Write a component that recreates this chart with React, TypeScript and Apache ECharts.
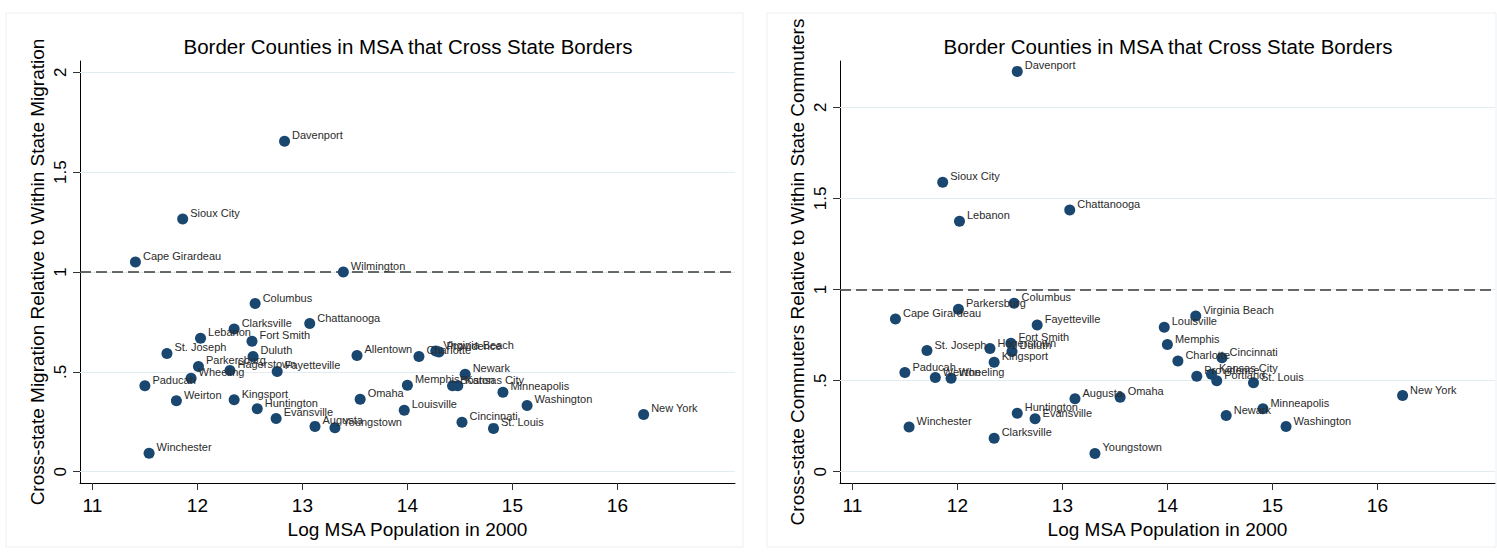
import React, { useEffect, useRef } from "react";
import * as echarts from "echarts";

const FONT = "'Liberation Sans', Arial, sans-serif";

const TITLE = "Border Counties in MSA that Cross State Borders";
const X_TITLE = "Log MSA Population in 2000";
const Y_TITLE_LEFT = "Cross-state Migration Relative to Within State Migration";
const Y_TITLE_RIGHT = "Cross-state Commuters Relative to Within State Commuters";

const xTicks = [11, 12, 13, 14, 15, 16];
const yTicks = [0, 0.5, 1, 1.5, 2];
const refLine = 1;

// Left panel: migration
const namesMig = [
  "Davenport", "Sioux City", "Cape Girardeau", "Wilmington", "Columbus", "Chattanooga",
  "Clarksville", "Lebanon", "Fort Smith", "St. Joseph", "Duluth", "Allentown", "Charlotte",
  "Virginia Beach", "Providence", "Parkersburg", "Hagerstown", "Fayetteville", "Wheeling",
  "Paducah", "Weirton", "Kingsport", "Huntington", "Evansville", "Augusta", "Youngstown",
  "Omaha", "Louisville", "Memphis", "Newark", "Boston", "Kansas City", "Minneapolis",
  "Washington", "New York", "Cincinnati", "St. Louis", "Winchester",
];
const popMig = [
  12.83, 11.86, 11.41, 13.39, 12.55, 13.07,
  12.35, 12.03, 12.52, 11.71, 12.53, 13.52, 14.11,
  14.27, 14.30, 12.01, 12.31, 12.76, 11.94,
  11.50, 11.80, 12.35, 12.57, 12.75, 13.12, 13.31,
  13.55, 13.97, 14.00, 14.55, 14.43, 14.48, 14.91,
  15.14, 16.25, 14.52, 14.82, 11.54,
];
const valMig = [
  1.655, 1.265, 1.05, 1.0, 0.842, 0.742,
  0.715, 0.668, 0.653, 0.592, 0.577, 0.582, 0.577,
  0.605, 0.60, 0.527, 0.507, 0.502, 0.468,
  0.43, 0.355, 0.36, 0.315, 0.267, 0.227, 0.22,
  0.363, 0.308, 0.433, 0.488, 0.43, 0.43, 0.398,
  0.332, 0.287, 0.248, 0.217, 0.092,
];

// Right panel: commuters
const namesCom = [
  "Davenport", "Sioux City", "Lebanon", "Chattanooga", "Columbus", "Parkersburg",
  "Cape Girardeau", "Fayetteville", "St. Joseph", "Hagerstown", "Fort Smith", "Duluth",
  "Kingsport", "Paducah", "Weirton", "Wheeling", "Augusta", "Omaha", "Huntington",
  "Evansville", "Winchester", "Clarksville", "Youngstown", "Virginia Beach", "Louisville",
  "Memphis", "Charlotte", "Cincinnati", "Providence", "Kansas City", "Portland",
  "St. Louis", "Newark", "Minneapolis", "Washington", "New York",
];
const popCom = [
  12.57, 11.86, 12.02, 13.07, 12.54, 12.01,
  11.41, 12.76, 11.71, 12.31, 12.51, 12.52,
  12.35, 11.50, 11.79, 11.94, 13.12, 13.55, 12.57,
  12.74, 11.54, 12.35, 13.31, 14.27, 13.97,
  14.00, 14.10, 14.52, 14.28, 14.42, 14.47,
  14.82, 14.56, 14.91, 15.13, 16.24,
];
const valCom = [
  2.197, 1.589, 1.375, 1.436, 0.924, 0.891,
  0.838, 0.805, 0.665, 0.676, 0.705, 0.66,
  0.601, 0.544, 0.517, 0.513, 0.40, 0.409, 0.321,
  0.29, 0.245, 0.183, 0.10, 0.855, 0.793,
  0.698, 0.608, 0.625, 0.524, 0.535, 0.499,
  0.488, 0.308, 0.345, 0.248, 0.418,
];

const MARKER = "#1a476f";
const GRID_COLOR = "#e3ecf1";

const fmtY = (v: number) => {
  if (v === 0) return "0";
  const s = String(v);
  return s.startsWith("0.") ? s.slice(1) : s;
};

function makeX(gridIndex: number) {
  return {
    type: "value",
    gridIndex,
    min: 10.882,
    max: 17.12,
    name: X_TITLE,
    nameLocation: "middle",
    nameGap: 30,
    nameTextStyle: { fontSize: 19, color: "#000", fontFamily: FONT },
    axisLine: { show: true, onZero: false, lineStyle: { color: "#000", width: 1 } },
    axisTick: { show: true, length: 7, customValues: xTicks, lineStyle: { color: "#333" } },
    axisLabel: { customValues: xTicks, fontSize: 19, color: "#000", margin: 13, fontFamily: FONT },
    splitLine: { show: false },
  };
}

function makeY(gridIndex: number, min: number, max: number, name: string) {
  return {
    type: "value",
    gridIndex,
    min,
    max,
    name,
    nameLocation: "middle",
    nameRotate: 90,
    nameGap: 33,
    nameTextStyle: { fontSize: 19, color: "#000", fontFamily: FONT },
    axisLine: { show: true, onZero: false, lineStyle: { color: "#000", width: 1 } },
    axisTick: { show: true, length: 7, customValues: yTicks, lineStyle: { color: "#333" } },
    axisLabel: {
      customValues: yTicks,
      rotate: 90,
      fontSize: 17,
      color: "#000",
      margin: 11,
      fontFamily: FONT,
      formatter: (v: number) => fmtY(v),
    },
    splitLine: { show: false },
  };
}

function makeSeries(idx: number, names: string[], xs: number[], ys: number[]) {
  return {
    type: "scatter",
    xAxisIndex: idx,
    yAxisIndex: idx,
    symbol: "circle",
    symbolSize: 11,
    itemStyle: { color: MARKER, opacity: 1 },
    data: names.map((n, i) => [xs[i], ys[i], n]),
    label: {
      show: true,
      position: "right",
      distance: 2,
      fontSize: 11,
      color: "#2b2b2b",
      fontFamily: FONT,
      formatter: (p: any) => p.value[2],
    },
    labelLayout: { hideOverlap: false, dy: -6 },
    markLine: {
      silent: true,
      symbol: "none",
      label: { show: false },
      z: 1,
      data: [
        ...yTicks.map((t) => ({ yAxis: t, lineStyle: { color: GRID_COLOR, width: 1.2, type: "solid" } })),
        { yAxis: refLine, lineStyle: { color: "#3a3a3a", width: 1.6, type: [11, 5] } },
      ],
    },
    z: 3,
  };
}

export default function App() {
  const ref = useRef<HTMLDivElement>(null);
  useEffect(() => {
    const chart = echarts.init(ref.current!, null, { renderer: "svg" });
    const option: any = {
      animation: false,
      backgroundColor: "#fff",
      textStyle: { fontFamily: FONT },
      grid: [
        { left: 80, top: 61, width: 655, height: 422 },
        { left: 840, top: 61, width: 655, height: 422 },
      ],
      xAxis: [makeX(0), makeX(1)],
      yAxis: [
        makeY(0, -0.0565, 2.0565, Y_TITLE_LEFT),
        makeY(1, -0.062, 2.254, Y_TITLE_RIGHT),
      ],
      series: [
        makeSeries(0, namesMig, popMig, valMig),
        makeSeries(1, namesCom, popCom, valCom),
      ],
      graphic: [
        {
          type: "rect",
          silent: true,
          z: -10,
          shape: { x: 6, y: 13, width: 737, height: 534 },
          style: { fill: "none", stroke: "#eceff1", lineWidth: 1 },
        },
        {
          type: "rect",
          silent: true,
          z: -10,
          shape: { x: 767, y: 13, width: 729, height: 534 },
          style: { fill: "none", stroke: "#eceff1", lineWidth: 1 },
        },
        {
          type: "text",
          x: 408,
          y: 46,
          style: {
            text: TITLE,
            fontSize: 20.5,
            fontFamily: FONT,
            fill: "#000",
            align: "center",
            verticalAlign: "middle",
          },
        },
        {
          type: "text",
          x: 1168,
          y: 46,
          style: {
            text: TITLE,
            fontSize: 20.5,
            fontFamily: FONT,
            fill: "#000",
            align: "center",
            verticalAlign: "middle",
          },
        },
      ],
    };
    chart.setOption(option);
    return () => chart.dispose();
  }, []);
  return (
    <div
      ref={ref}
      style={{ position: "fixed", left: 0, top: 0, width: 1497, height: 554, background: "#fff" }}
    />
  );
}
